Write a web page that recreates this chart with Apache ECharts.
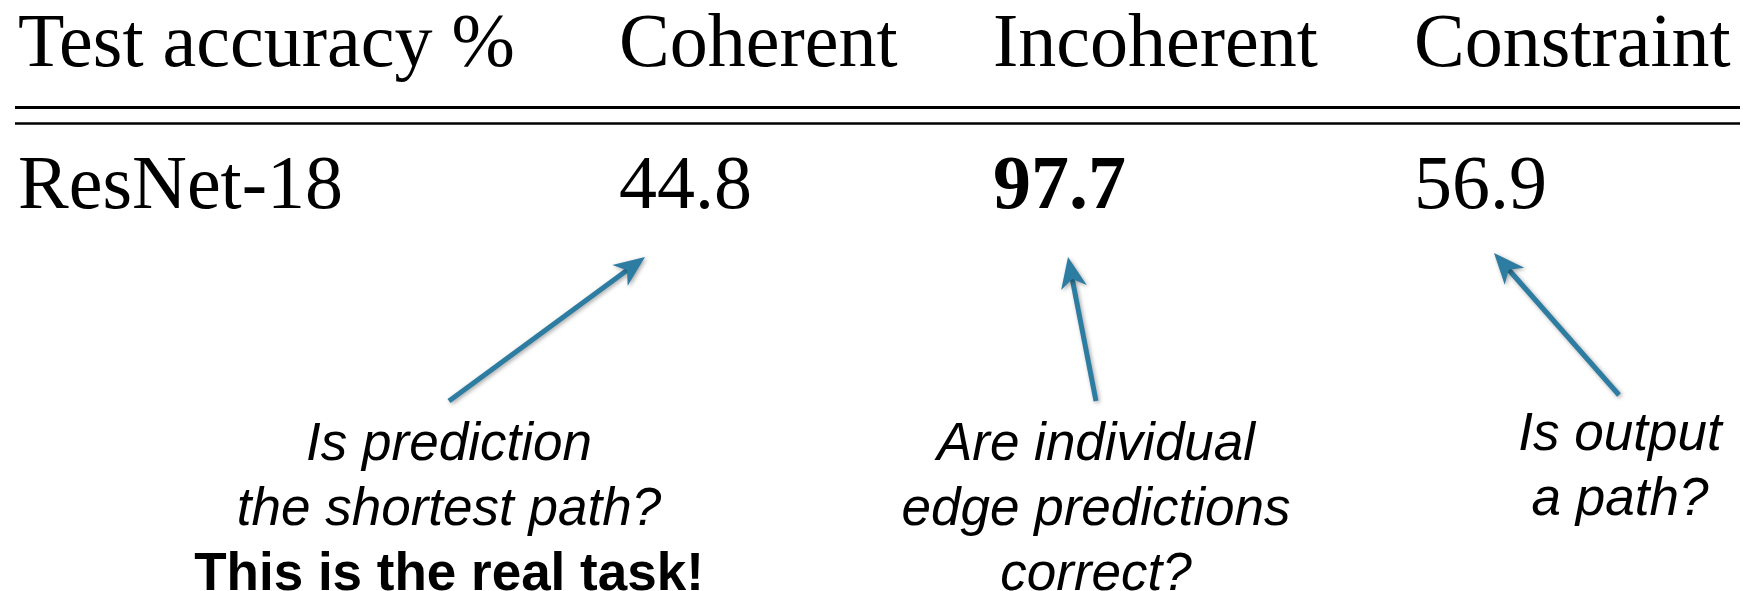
<!DOCTYPE html>
<html><head><meta charset="utf-8">
<script src="https://cdn.jsdelivr.net/npm/echarts@6/dist/echarts.min.js"></script>
<style>html,body{margin:0;padding:0;background:#fff}#c{width:1743px;height:591px}</style>
</head><body><div id="c"></div>
<script>
// ---- data ----
const columnHeaders = ['Test accuracy %', 'Coherent', 'Incoherent', 'Constraint'];
const modelNames = ['ResNet-18'];
const accuracyValues = [44.8, 97.7, 56.9];
const noteQuestions = ['Is prediction\nthe shortest path?', 'Are individual\nedge predictions\ncorrect?', 'Is output\na path?'];
const noteEmphasis = ['This is the real task!', '', ''];

// ---- layout (pixels) ----
const W = 1743, H = 591;
const colLeft = [18, 619, 993, 1414];
const headerY = 46, rowY = 188;
const rules = [[107.5, 3], [123.5, 2.5]];
const ruleX = [15, 1740];
const noteAnchor = [[449, 413], [1096, 413], [1620, 403]];
const arrowTail = [[449, 401], [1096, 401], [1619, 395]];
const arrowTip = [[645, 257], [1068, 257], [1494, 253]];
const ARROW = '#2d7ca1';

const serif = 'Liberation Serif';
const sans = 'Liberation Sans';
const maxVal = Math.max.apply(null, accuracyValues);

const textScatter = (name, data, labelOpt) => ({
  type: 'scatter', name, symbolSize: 1, silent: true,
  itemStyle: { color: 'rgba(0,0,0,0)', opacity: 1 },
  data,
  label: Object.assign({ show: true, position: 'inside', align: 'left', verticalAlign: 'middle',
    color: '#000', fontFamily: serif, fontSize: 76 }, labelOpt)
});

const series = [];
series.push(textScatter('headers',
  columnHeaders.map((h, i) => ({ name: h, value: [colLeft[i], headerY] })),
  { formatter: '{b}' }));
series.push(textScatter('models',
  modelNames.map((m) => ({ name: m, value: [colLeft[0], rowY] })),
  { formatter: '{b}' }));
series.push(textScatter('values',
  accuracyValues.map((v, i) => ({ value: [colLeft[i + 1], rowY, v],
    label: { fontWeight: v === maxVal ? 'bold' : 'normal' } })),
  { formatter: (p) => p.value[2].toFixed(1) }));

rules.forEach((r, k) => {
  series.push({ type: 'line', name: 'rule' + k, silent: true, symbol: 'none',
    data: [[ruleX[0], r[0]], [ruleX[1], r[0]]],
    lineStyle: { color: '#000', width: r[1], opacity: 1 } });
});

series.push({
  type: 'custom', name: 'arrows', silent: true,
  data: arrowTail.map((t, i) => [t[0], t[1], arrowTip[i][0], arrowTip[i][1]]),
  renderItem: (params, api) => {
    const a = api.coord([api.value(0), api.value(1)]);
    const b = api.coord([api.value(2), api.value(3)]);
    const dx = b[0] - a[0], dy = b[1] - a[1];
    const len = Math.sqrt(dx * dx + dy * dy);
    const ux = dx / len, uy = dy / len, nx = -uy, ny = ux;
    const L = 31, HW = 13, notch = 0.72 * L;
    const nb = [b[0] - ux * notch, b[1] - uy * notch];
    const w1 = [b[0] - ux * L + nx * HW, b[1] - uy * L + ny * HW];
    const w2 = [b[0] - ux * L - nx * HW, b[1] - uy * L - ny * HW];
    const shadow = { shadowColor: 'rgba(0,0,0,0.35)', shadowBlur: 4, shadowOffsetX: 1.5, shadowOffsetY: 1.5 };
    return { type: 'group', children: [
      { type: 'line', shape: { x1: a[0], y1: a[1], x2: nb[0], y2: nb[1] },
        style: Object.assign({ stroke: ARROW, lineWidth: 5 }, shadow) },
      { type: 'polygon', shape: { points: [b, w1, nb, w2] },
        style: Object.assign({ fill: ARROW }, shadow) }
    ] };
  }
});

series.push(textScatter('notes',
  noteQuestions.map((q, i) => {
    const lines = q.split('\n').map((s) => '{i|' + s + '}');
    if (noteEmphasis[i]) lines.push('{b|' + noteEmphasis[i] + '}');
    return { name: lines.join('\n'), value: noteAnchor[i] };
  }),
  { formatter: '{b}', align: 'center', verticalAlign: 'top', fontFamily: sans, fontSize: 53, lineHeight: 65,
    rich: {
      i: { fontFamily: sans, fontSize: 53, fontStyle: 'italic', color: '#000', lineHeight: 65 },
      b: { fontFamily: sans, fontSize: 53, fontWeight: 'bold', color: '#000', lineHeight: 65 }
    } }));

const chart = echarts.init(document.getElementById('c'), null, { renderer: 'canvas' });
chart.setOption({
  animation: false,
  backgroundColor: '#fff',
  grid: { left: 0, right: 0, top: 0, bottom: 0 },
  xAxis: { type: 'value', min: 0, max: W, show: false },
  yAxis: { type: 'value', min: 0, max: H, inverse: true, show: false },
  series
});
</script></body></html>
